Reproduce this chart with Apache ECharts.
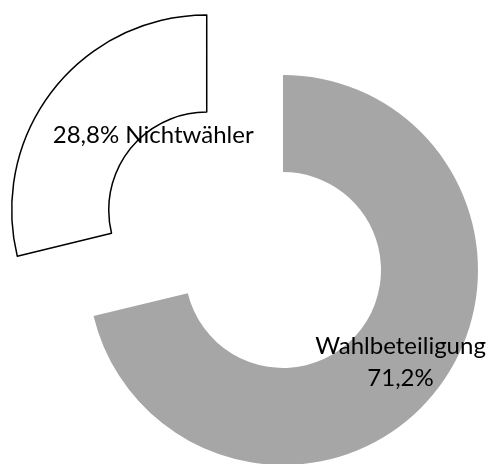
<!DOCTYPE html>
<html>
<head>
<meta charset="utf-8">
<script src="https://cdn.jsdelivr.net/npm/echarts@6/dist/echarts.min.js"></script>
<style>
  html, body { margin: 0; padding: 0; background: #fff; }
  #chart { width: 494px; height: 464px; }
</style>
</head>
<body>
<div id="chart"></div>
<script>
// Wahlbeteiligung vs. Nichtwähler
var names = ['Wahlbeteiligung', 'Nichtwähler'];
var values = [71.2, 28.8];
var labelTexts = ['Wahlbeteiligung\n71,2%', '28,8% Nichtwähler'];

var chart = echarts.init(document.getElementById('chart'));

var data = names.map(function (name, i) {
    var item = { name: name, value: values[i] };
    if (i === 0) {
        item.itemStyle = { color: '#a6a6a6', borderWidth: 0 };
    } else {
        item.selected = true;
        item.itemStyle = { color: '#ffffff', borderColor: '#000000', borderWidth: 1.5 };
    }
    return item;
});

var option = {
    animation: false,
    series: [
        {
            type: 'pie',
            center: [283, 270],
            radius: [98, 195],
            startAngle: 90,
            clockwise: true,
            selectedMode: 'single',
            selectedOffset: 97,
            avoidLabelOverlap: false,
            label: {
                show: true,
                position: 'inside',
                color: '#000',
                fontFamily: 'Lato',
                fontSize: 24,
                lineHeight: 32,
                align: 'center',
                formatter: function (p) {
                    return labelTexts[p.dataIndex];
                }
            },
            // the Nichtwähler label sits nearer the hole than the slice middle
            labelLayout: function (params) {
                if (params.dataIndex === 1) {
                    return { dx: 64, dy: 18 };
                }
                return {};
            },
            labelLine: { show: false },
            emphasis: { disabled: true },
            data: data
        }
    ]
};
chart.setOption(option);
</script>
</body>
</html>
